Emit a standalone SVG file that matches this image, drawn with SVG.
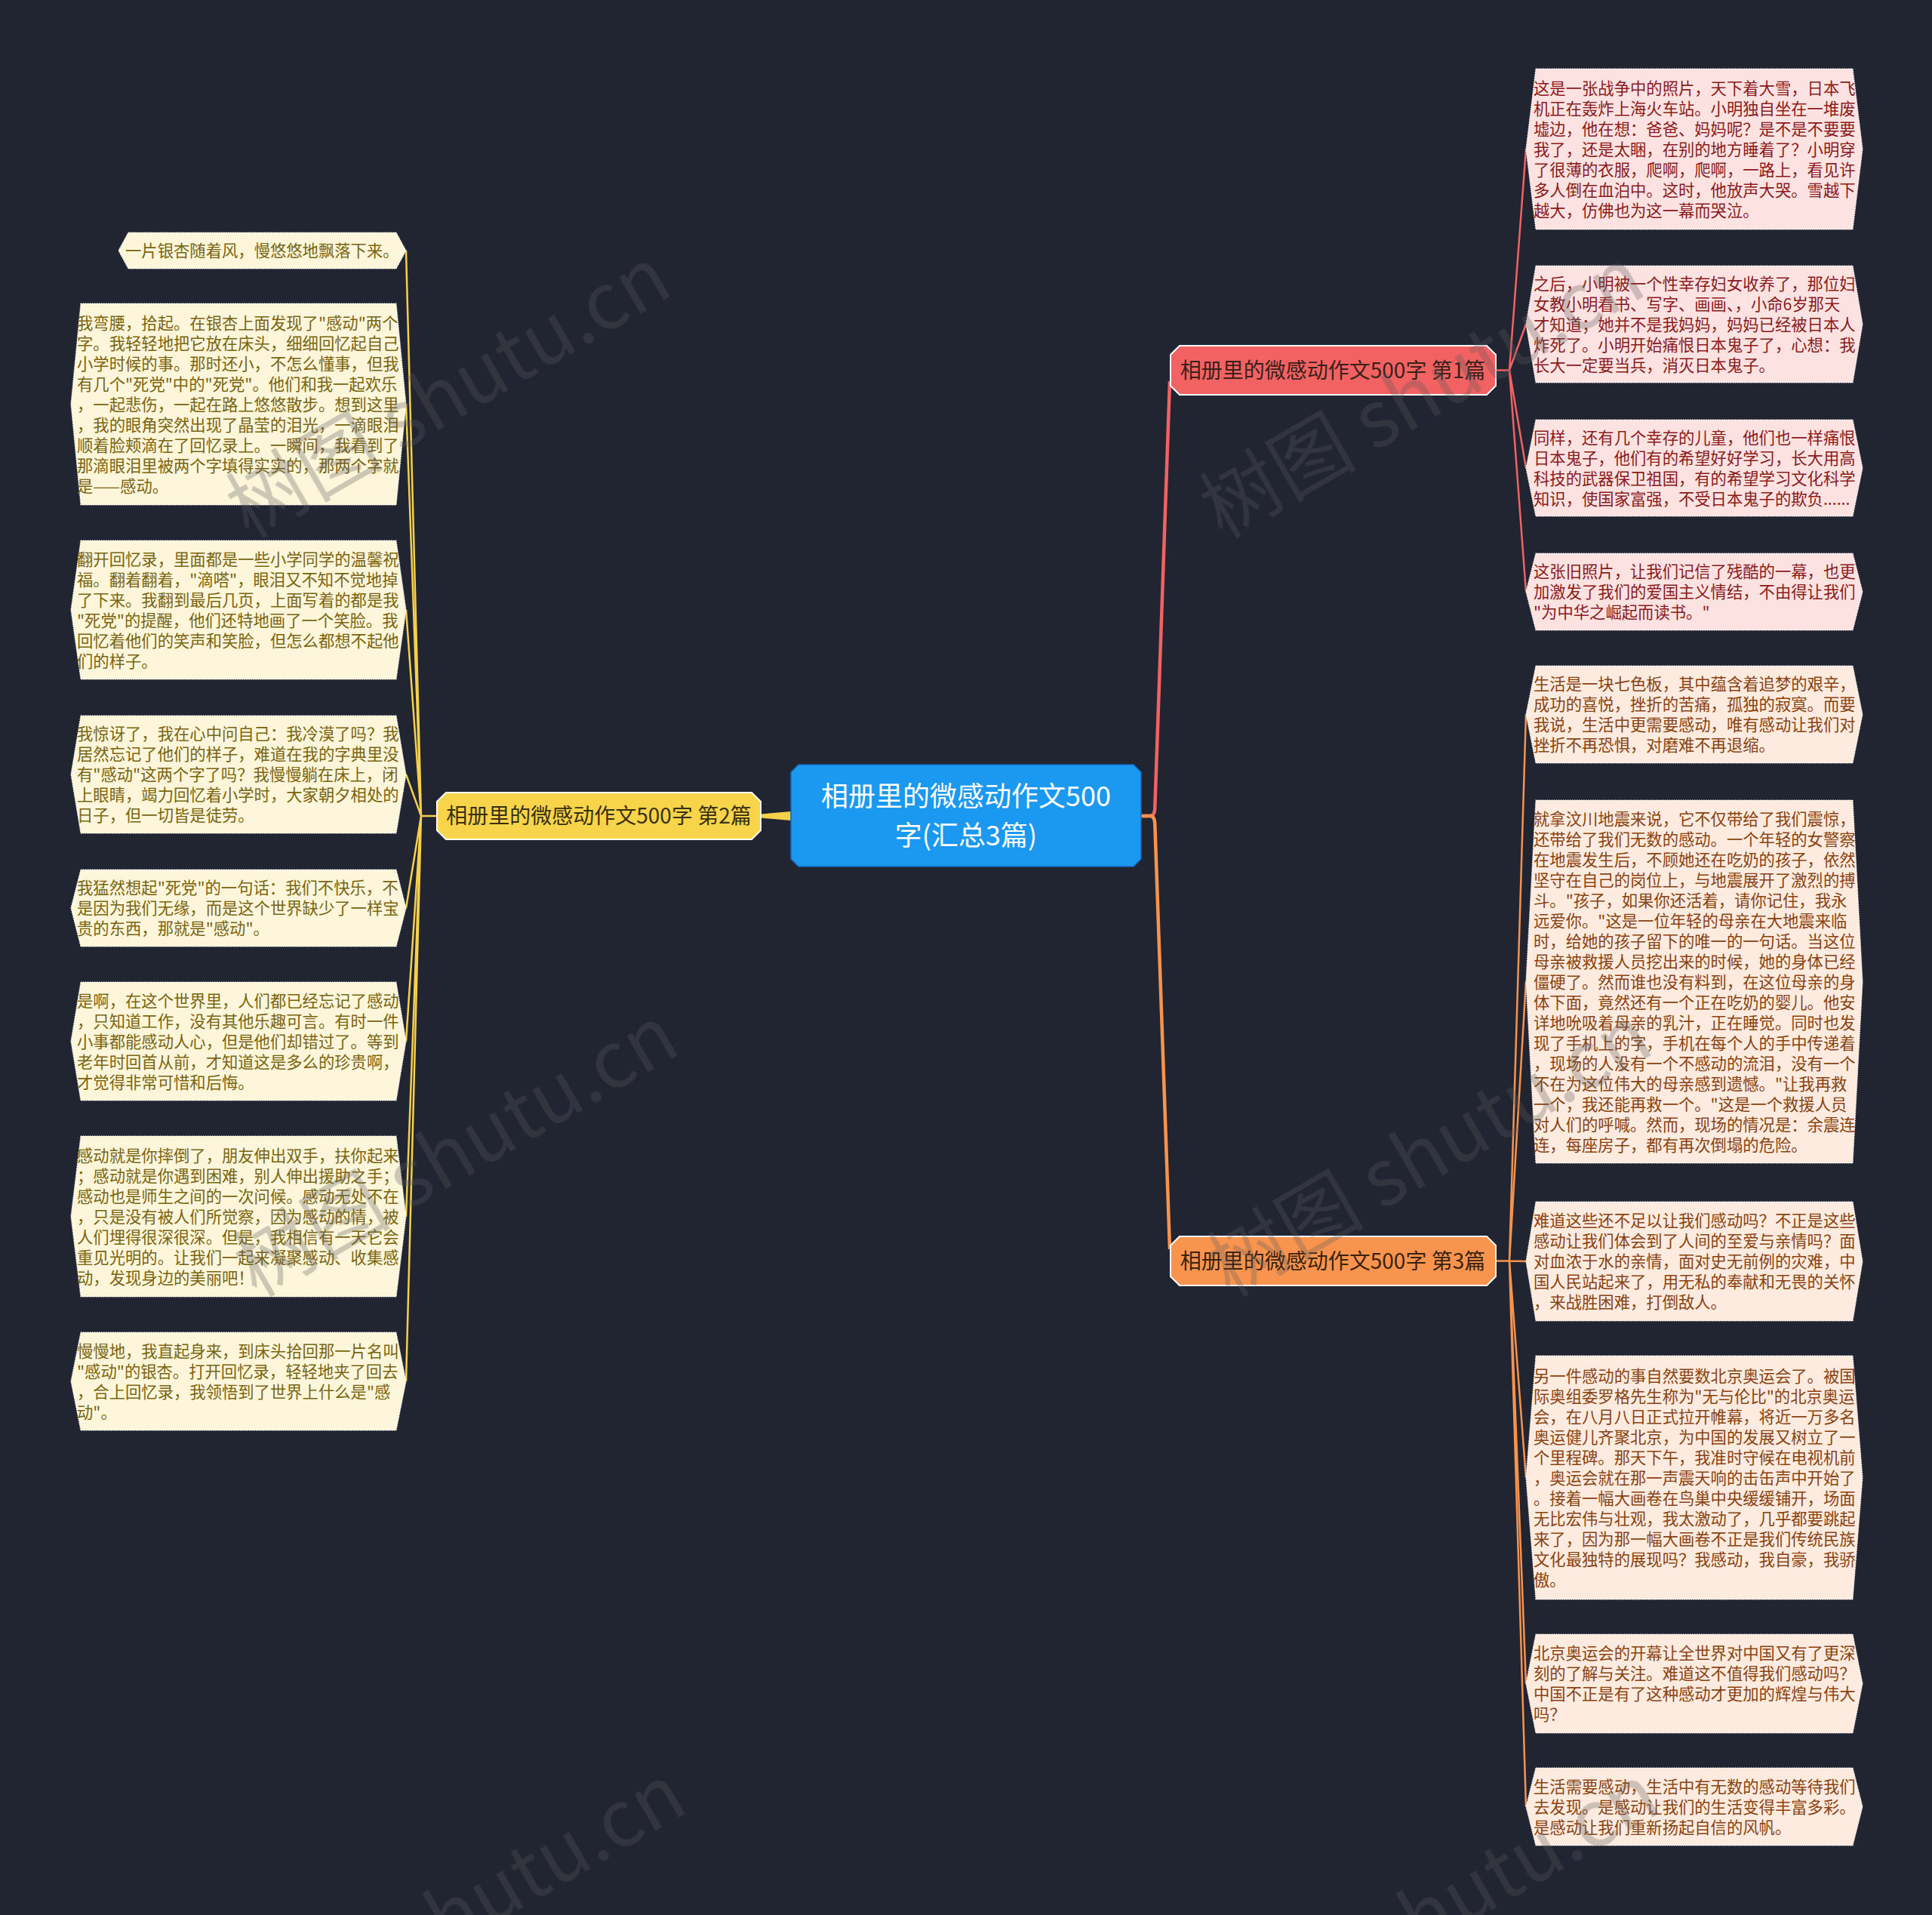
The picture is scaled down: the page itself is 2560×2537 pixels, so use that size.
<svg xmlns="http://www.w3.org/2000/svg" width="2560" height="2537" viewBox="0 0 2560 2537">
<style>
.t{font-family:"Noto Sans CJK SC","Noto Sans",sans-serif}
.leaf{stroke:#ffffff;stroke-width:1.2;stroke-dasharray:1.5 1.5}
.l1{fill:#fde2e2}.l2{fill:#fdf6da}.l3{fill:#fdebdf}
.tx{font-size:21.33px}
.tx1{fill:#8b1a1a}.tx2{fill:#7a6410}.tx3{fill:#8a4210}
.c1{stroke:#f26262}.c2{stroke:#f6d04a}.c3{stroke:#f8934e}
.lk{fill:none;stroke-width:2.5}
.main{fill:none;stroke-width:4.5;stroke-linejoin:round}
.br{stroke:#ffffff;stroke-width:2}
.brt{font-size:28px;fill:#3a1f1a;text-anchor:middle}
.wm{font-size:104px;fill:#5c5c5c;opacity:.3}
</style>
<rect x="0" y="0" width="2560" height="2537" fill="#212532"/>

<g id="connectors">
  <path class="main c1" d="M1512 1081 L1524 1081 Q1530 1081 1530.3 1070 L1550 505"/>
  <path class="main c3" d="M1512 1081 L1524 1081 Q1530 1081 1530.3 1092 L1550 1655"/>
  <polygon points="1048,1075 1048,1087 1008,1083.5 1008,1078.5" fill="#f6d04a"/>
  <path class="lk c1" d="M1982 490.5 H2000"/>
  <path class="lk c1" d="M2000 490.5 L2022 197.5 M2000 490.5 L2022 429.5 M2000 490.5 L2022 620 M2000 490.5 L2022 784"/>
  <path class="lk c3" d="M1982 1670.5 H2000"/>
  <path class="lk c3" d="M2000 1670.5 L2022 946.5 M2000 1670.5 L2022 1300.5 M2000 1670.5 L2022 1671 M2000 1670.5 L2022 1957.5 M2000 1670.5 L2022 2230.5 M2000 1670.5 L2022 2393.5"/>
  <path class="lk c2" d="M579 1081 H558"/>
  <path class="lk c2" d="M558 1081 L538 332 M558 1081 L538 535.5 M558 1081 L538 808 M558 1081 L538 1026 M558 1081 L538 1203 M558 1081 L538 1379.5 M558 1081 L538 1611.5 M558 1081 L538 1830"/>
</g>

<g id="center">
  <polygon points="1058,1013 1502,1013 1512,1023 1512,1138 1502,1148 1058,1148 1048,1138 1048,1023" fill="#1b98f0" stroke="#1466b8" stroke-width="1.5"/>
  <text class="t" x="1280" y="1068" font-size="36" fill="#ffffff" text-anchor="middle">相册里的微感动作文500</text>
  <text class="t" x="1280" y="1120" font-size="36" fill="#ffffff" text-anchor="middle">字(汇总3篇)</text>
</g>

<g id="branch1">
  <polygon class="br" points="1563,458 1970,458 1982,470 1982,511 1970,523 1563,523 1551,511 1551,470" fill="#f26262"/>
  <text class="t brt" x="1766" y="501">相册里的微感动作文500字 第1篇</text>
</g>
<g id="branch2">
  <polygon class="br" points="591,1050 996,1050 1008,1062 1008,1100 996,1112 591,1112 579,1100 579,1062" fill="#f8d44a"/>
  <text class="t brt" x="793.5" y="1091" fill="#3a3010" style="fill:#3a3010">相册里的微感动作文500字 第2篇</text>
</g>
<g id="branch3">
  <polygon class="br" points="1563,1638 1970,1638 1982,1650 1982,1691 1970,1703 1563,1703 1551,1691 1551,1650" fill="#f9944f"/>
  <text class="t brt" x="1766" y="1681" style="fill:#3a220f">相册里的微感动作文500字 第3篇</text>
</g>

<g id="leaf1a">
  <polygon class="leaf l1" points="2035,91 2455,91 2468,197.5 2455,304 2035,304 2022,197.5"/>
  <text class="t tx tx1" y="124.5"><tspan x="2032">这是一张战争中的照片，天下着大雪，日本飞</tspan><tspan x="2032" dy="27">机正在轰炸上海火车站。小明独自坐在一堆废</tspan><tspan x="2032" dy="27">墟边，他在想：爸爸、妈妈呢？是不是不要要</tspan><tspan x="2032" dy="27">我了，还是太睏，在别的地方睡着了？小明穿</tspan><tspan x="2032" dy="27">了很薄的衣服，爬啊，爬啊，一路上，看见许</tspan><tspan x="2032" dy="27">多人倒在血泊中。这时，他放声大哭。雪越下</tspan><tspan x="2032" dy="27">越大，仿佛也为这一幕而哭泣。</tspan></text>
</g>
<g id="leaf1b">
  <polygon class="leaf l1" points="2035,352 2455,352 2468,429.5 2455,507 2035,507 2022,429.5"/>
  <text class="t tx tx1" y="383.5"><tspan x="2032">之后，小明被一个性幸存妇女收养了，那位妇</tspan><tspan x="2032" dy="27">女教小明看书、写字、画画、，小命6岁那天</tspan><tspan x="2032" dy="27">才知道；她并不是我妈妈，妈妈已经被日本人</tspan><tspan x="2032" dy="27">炸死了。小明开始痛恨日本鬼子了，心想：我</tspan><tspan x="2032" dy="27">长大一定要当兵，消灭日本鬼子。</tspan></text>
</g>
<g id="leaf1c">
  <polygon class="leaf l1" points="2035,556 2455,556 2468,620 2455,684 2035,684 2022,620"/>
  <text class="t tx tx1" y="587.5"><tspan x="2032">同样，还有几个幸存的儿童，他们也一样痛恨</tspan><tspan x="2032" dy="27">日本鬼子，他们有的希望好好学习，长大用高</tspan><tspan x="2032" dy="27">科技的武器保卫祖国，有的希望学习文化科学</tspan><tspan x="2032" dy="27">知识，使国家富强，不受日本鬼子的欺负......</tspan></text>
</g>
<g id="leaf1d">
  <polygon class="leaf l1" points="2035,733 2455,733 2468,784 2455,835 2035,835 2022,784"/>
  <text class="t tx tx1" y="765"><tspan x="2032">这张旧照片，让我们记信了残酷的一幕，也更</tspan><tspan x="2032" dy="27">加激发了我们的爱国主义情结，不由得让我们</tspan><tspan x="2032" dy="27">"为中华之崛起而读书。"</tspan></text>
</g>

<g id="leaf3a">
  <polygon class="leaf l3" points="2035,882 2455,882 2468,946.5 2455,1011 2035,1011 2022,946.5"/>
  <text class="t tx tx3" y="914"><tspan x="2032">生活是一块七色板，其中蕴含着追梦的艰辛，</tspan><tspan x="2032" dy="27">成功的喜悦，挫折的苦痛，孤独的寂寞。而要</tspan><tspan x="2032" dy="27">我说，生活中更需要感动，唯有感动让我们对</tspan><tspan x="2032" dy="27">挫折不再恐惧，对磨难不再退缩。</tspan></text>
</g>
<g id="leaf3b">
  <polygon class="leaf l3" points="2035,1060 2455,1060 2468,1300.5 2455,1541 2035,1541 2022,1300.5"/>
  <text class="t tx tx3" y="1092.5"><tspan x="2032">就拿汶川地震来说，它不仅带给了我们震惊，</tspan><tspan x="2032" dy="27">还带给了我们无数的感动。一个年轻的女警察</tspan><tspan x="2032" dy="27">在地震发生后，不顾她还在吃奶的孩子，依然</tspan><tspan x="2032" dy="27">坚守在自己的岗位上，与地震展开了激烈的搏</tspan><tspan x="2032" dy="27">斗。"孩子，如果你还活着，请你记住，我永</tspan><tspan x="2032" dy="27">远爱你。"这是一位年轻的母亲在大地震来临</tspan><tspan x="2032" dy="27">时，给她的孩子留下的唯一的一句话。当这位</tspan><tspan x="2032" dy="27">母亲被救援人员挖出来的时候，她的身体已经</tspan><tspan x="2032" dy="27">僵硬了。然而谁也没有料到，在这位母亲的身</tspan><tspan x="2032" dy="27">体下面，竟然还有一个正在吃奶的婴儿。他安</tspan><tspan x="2032" dy="27">详地吮吸着母亲的乳汁，正在睡觉。同时也发</tspan><tspan x="2032" dy="27">现了手机上的字，手机在每个人的手中传递着</tspan><tspan x="2032" dy="27">，现场的人没有一个不感动的流泪，没有一个</tspan><tspan x="2032" dy="27">不在为这位伟大的母亲感到遗憾。"让我再救</tspan><tspan x="2032" dy="27">一个，我还能再救一个。"这是一个救援人员</tspan><tspan x="2032" dy="27">对人们的呼喊。然而，现场的情况是：余震连</tspan><tspan x="2032" dy="27">连，每座房子，都有再次倒塌的危险。</tspan></text>
</g>
<g id="leaf3c">
  <polygon class="leaf l3" points="2035,1592 2455,1592 2468,1671 2455,1750 2035,1750 2022,1671"/>
  <text class="t tx tx3" y="1625"><tspan x="2032">难道这些还不足以让我们感动吗？不正是这些</tspan><tspan x="2032" dy="27">感动让我们体会到了人间的至爱与亲情吗？面</tspan><tspan x="2032" dy="27">对血浓于水的亲情，面对史无前例的灾难，中</tspan><tspan x="2032" dy="27">国人民站起来了，用无私的奉献和无畏的关怀</tspan><tspan x="2032" dy="27">，来战胜困难，打倒敌人。</tspan></text>
</g>
<g id="leaf3d">
  <polygon class="leaf l3" points="2035,1796 2455,1796 2468,1957.5 2455,2119 2035,2119 2022,1957.5"/>
  <text class="t tx tx3" y="1830.5"><tspan x="2032">另一件感动的事自然要数北京奥运会了。被国</tspan><tspan x="2032" dy="27">际奥组委罗格先生称为"无与伦比"的北京奥运</tspan><tspan x="2032" dy="27">会，在八月八日正式拉开帷幕，将近一万多名</tspan><tspan x="2032" dy="27">奥运健儿齐聚北京，为中国的发展又树立了一</tspan><tspan x="2032" dy="27">个里程碑。那天下午，我准时守候在电视机前</tspan><tspan x="2032" dy="27">，奥运会就在那一声震天响的击缶声中开始了</tspan><tspan x="2032" dy="27">。接着一幅大画卷在鸟巢中央缓缓铺开，场面</tspan><tspan x="2032" dy="27">无比宏伟与壮观，我太激动了，几乎都要跳起</tspan><tspan x="2032" dy="27">来了，因为那一幅大画卷不正是我们传统民族</tspan><tspan x="2032" dy="27">文化最独特的展现吗？我感动，我自豪，我骄</tspan><tspan x="2032" dy="27">傲。</tspan></text>
</g>
<g id="leaf3e">
  <polygon class="leaf l3" points="2035,2165 2455,2165 2468,2230.5 2455,2296 2035,2296 2022,2230.5"/>
  <text class="t tx tx3" y="2198"><tspan x="2032">北京奥运会的开幕让全世界对中国又有了更深</tspan><tspan x="2032" dy="27">刻的了解与关注。难道这不值得我们感动吗？</tspan><tspan x="2032" dy="27">中国不正是有了这种感动才更加的辉煌与伟大</tspan><tspan x="2032" dy="27">吗？</tspan></text>
</g>
<g id="leaf3f">
  <polygon class="leaf l3" points="2035,2342 2455,2342 2468,2393.5 2455,2445 2035,2445 2022,2393.5"/>
  <text class="t tx tx3" y="2374.5"><tspan x="2032">生活需要感动，生活中有无数的感动等待我们</tspan><tspan x="2032" dy="27">去发现。是感动让我们的生活变得丰富多彩。</tspan><tspan x="2032" dy="27">是感动让我们重新扬起自信的风帆。</tspan></text>
</g>

<g id="leaf2a">
  <polygon class="leaf l2" points="170,308 525,308 538,332 525,356 170,356 157,332"/>
  <text class="t tx tx2" x="166" y="340">一片银杏随着风，慢悠悠地飘落下来。</text>
</g>
<g id="leaf2b">
  <polygon class="leaf l2" points="107,402 525,402 538,535.5 525,669 107,669 94,535.5"/>
  <text class="t tx tx2" y="435.5"><tspan x="102">我弯腰，拾起。在银杏上面发现了"感动"两个</tspan><tspan x="102" dy="27">字。我轻轻地把它放在床头，细细回忆起自己</tspan><tspan x="102" dy="27">小学时候的事。那时还小，不怎么懂事，但我</tspan><tspan x="102" dy="27">有几个"死党"中的"死党"。他们和我一起欢乐</tspan><tspan x="102" dy="27">，一起悲伤，一起在路上悠悠散步。想到这里</tspan><tspan x="102" dy="27">，我的眼角突然出现了晶莹的泪光，一滴眼泪</tspan><tspan x="102" dy="27">顺着脸颊滴在了回忆录上。一瞬间，我看到了</tspan><tspan x="102" dy="27">那滴眼泪里被两个字填得实实的，那两个字就</tspan><tspan x="102" dy="27">是——感动。</tspan></text>
</g>
<g id="leaf2c">
  <polygon class="leaf l2" points="107,716 525,716 538,808 525,900 107,900 94,808"/>
  <text class="t tx tx2" y="748.5"><tspan x="102">翻开回忆录，里面都是一些小学同学的温馨祝</tspan><tspan x="102" dy="27">福。翻着翻着，"滴嗒"，眼泪又不知不觉地掉</tspan><tspan x="102" dy="27">了下来。我翻到最后几页，上面写着的都是我</tspan><tspan x="102" dy="27">"死党"的提醒，他们还特地画了一个笑脸。我</tspan><tspan x="102" dy="27">回忆着他们的笑声和笑脸，但怎么都想不起他</tspan><tspan x="102" dy="27">们的样子。</tspan></text>
</g>
<g id="leaf2d">
  <polygon class="leaf l2" points="107,948 525,948 538,1026 525,1104 107,1104 94,1026"/>
  <text class="t tx tx2" y="980"><tspan x="102">我惊讶了，我在心中问自己：我冷漠了吗？我</tspan><tspan x="102" dy="27">居然忘记了他们的样子，难道在我的字典里没</tspan><tspan x="102" dy="27">有"感动"这两个字了吗？我慢慢躺在床上，闭</tspan><tspan x="102" dy="27">上眼睛，竭力回忆着小学时，大家朝夕相处的</tspan><tspan x="102" dy="27">日子，但一切皆是徒劳。</tspan></text>
</g>
<g id="leaf2e">
  <polygon class="leaf l2" points="107,1152 525,1152 538,1203 525,1254 107,1254 94,1203"/>
  <text class="t tx tx2" y="1184"><tspan x="102">我猛然想起"死党"的一句话：我们不快乐，不</tspan><tspan x="102" dy="27">是因为我们无缘，而是这个世界缺少了一样宝</tspan><tspan x="102" dy="27">贵的东西，那就是"感动"。</tspan></text>
</g>
<g id="leaf2f">
  <polygon class="leaf l2" points="107,1301 525,1301 538,1379.5 525,1458 107,1458 94,1379.5"/>
  <text class="t tx tx2" y="1333.5"><tspan x="102">是啊，在这个世界里，人们都已经忘记了感动</tspan><tspan x="102" dy="27">，只知道工作，没有其他乐趣可言。有时一件</tspan><tspan x="102" dy="27">小事都能感动人心，但是他们却错过了。等到</tspan><tspan x="102" dy="27">老年时回首从前，才知道这是多么的珍贵啊，</tspan><tspan x="102" dy="27">才觉得非常可惜和后悔。</tspan></text>
</g>
<g id="leaf2g">
  <polygon class="leaf l2" points="107,1505 525,1505 538,1611.5 525,1718 107,1718 94,1611.5"/>
  <text class="t tx tx2" y="1538.5"><tspan x="102">感动就是你摔倒了，朋友伸出双手，扶你起来</tspan><tspan x="102" dy="27">；感动就是你遇到困难，别人伸出援助之手；</tspan><tspan x="102" dy="27">感动也是师生之间的一次问候。感动无处不在</tspan><tspan x="102" dy="27">，只是没有被人们所觉察，因为感动的情，被</tspan><tspan x="102" dy="27">人们埋得很深很深。但是，我相信有一天它会</tspan><tspan x="102" dy="27">重见光明的。让我们一起来凝聚感动、收集感</tspan><tspan x="102" dy="27">动，发现身边的美丽吧！</tspan></text>
</g>
<g id="leaf2h">
  <polygon class="leaf l2" points="107,1765 525,1765 538,1830 525,1895 107,1895 94,1830"/>
  <text class="t tx tx2" y="1797.5"><tspan x="102">慢慢地，我直起身来，到床头拾回那一片名叫</tspan><tspan x="102" dy="27">"感动"的银杏。打开回忆录，轻轻地夹了回去</tspan><tspan x="102" dy="27">，合上回忆录，我领悟到了世界上什么是"感</tspan><tspan x="102" dy="27">动"。</tspan></text>
</g>

<g id="watermark" class="t wm">
  <text transform="translate(330 715) rotate(-30)">树图 shutu.cn</text>
  <text transform="translate(1620 715) rotate(-30)">树图 shutu.cn</text>
  <text transform="translate(340 1720) rotate(-30)">树图 shutu.cn</text>
  <text transform="translate(1630 1720) rotate(-30)">树图 shutu.cn</text>
  <text transform="translate(350 2725) rotate(-30)">树图 shutu.cn</text>
  <text transform="translate(1640 2725) rotate(-30)">树图 shutu.cn</text>
</g>
</svg>
